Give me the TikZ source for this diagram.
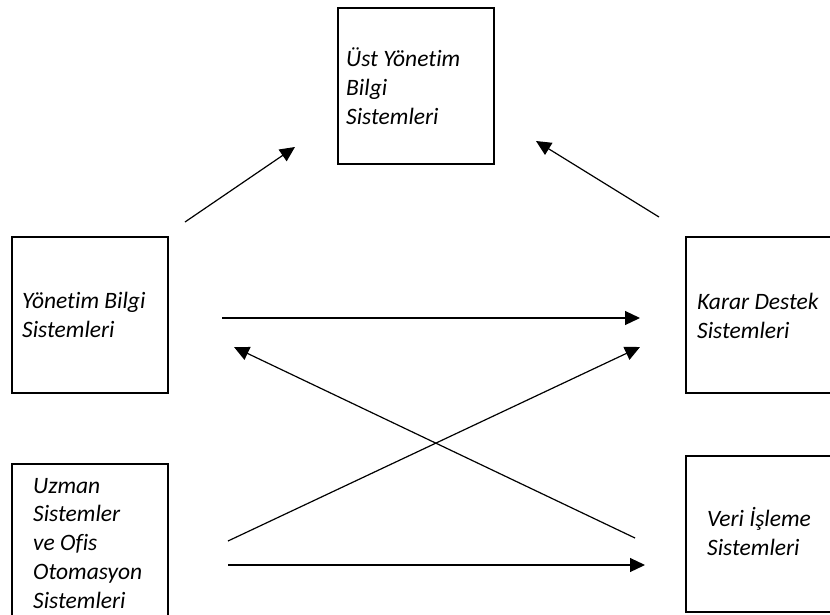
\documentclass[tikz,border=0pt]{standalone}
\usepackage{fontspec}
\setmainfont{Carlito}[Ligatures=NoCommon]
\usetikzlibrary{arrows.meta}
\tikzset{>={Triangle[length=15pt,width=14pt]}}
\begin{document}
\begin{tikzpicture}[x=1pt,y=-1pt,
	sysbox/.style={draw,line width=2pt,minimum size=156pt,inner sep=0pt,anchor=north west},
	systext/.style={anchor=base west,align=left,inner sep=0pt,font=\itshape\fontsize{23.5}{28.7}\selectfont}]

	\useasboundingbox (0,0) rectangle (830,614);
	\clip (0,0) rectangle (830,614);

	\node[sysbox] (ust) at (337,7) {};
	\node[sysbox] (ybs) at (11,236) {};
	\node[sysbox] (uzman) at (11,463) {};
	\node[sysbox] (kds) at (685,236) {};
	\node[sysbox] (vis) at (685,455) {};

	% base anchor sits on the last line
	\node[systext] (ustText) at (346,124) {Üst Yönetim\\Bilgi\\Sistemleri};
	\node[systext] (ybsText) at (22,337) {Yönetim Bilgi\\Sistemleri};
	\node[systext] (uzmanText) at (33,608) {Uzman\\Sistemler\\ve Ofis\\Otomasyon\\Sistemleri};
	\node[systext] (kdsText) at (697,338) {Karar Destek\\Sistemleri};
	\node[systext] (visText) at (707,555) {Veri İşleme\\Sistemleri};

	\coordinate (ybsUp) at (185,222);
	\coordinate (ustLeft) at (295,147);
	\coordinate (kdsUp) at (659,217);
	\coordinate (ustRight) at (536,141);
	\coordinate (ybsRight) at (222,318);
	\coordinate (kdsLeft) at (640,318);
	\coordinate (uzmanUp) at (228,541);
	\coordinate (kdsLow) at (640,347);
	\coordinate (visUp) at (635,538);
	\coordinate (ybsLow) at (234,347);
	\coordinate (uzmanRight) at (228,565);
	\coordinate (visLeft) at (645,565);

	\path[line width=1.2pt]
	(ybsUp) edge[->] (ustLeft)
	(kdsUp) edge[->] (ustRight)
	(ybsRight) edge[->] (kdsLeft)
	(uzmanUp) edge[->] (kdsLow)
	(visUp) edge[->] (ybsLow)
	(uzmanRight) edge[->] (visLeft);
\end{tikzpicture}
\end{document}
